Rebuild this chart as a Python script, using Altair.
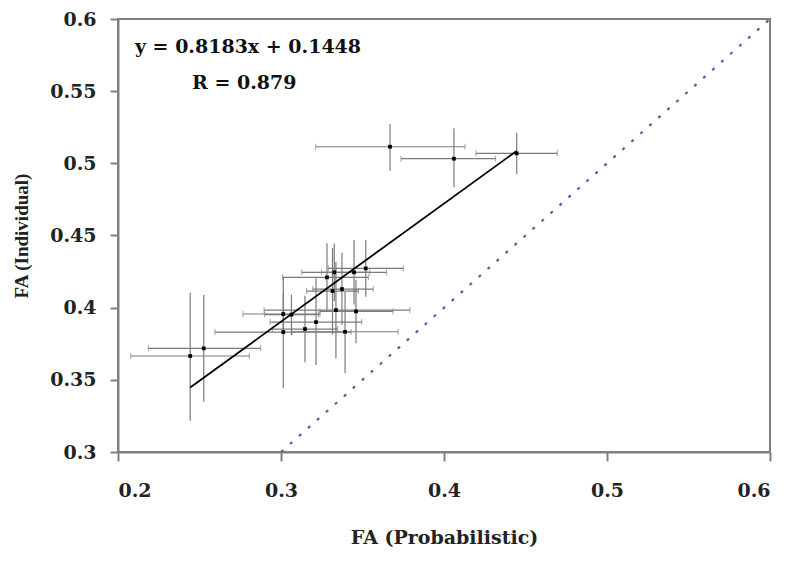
import altair as alt
import pandas as pd

# point centres (FA probabilistic, FA individual)
px = [0.2443, 0.2526, 0.3014, 0.3064, 0.3014, 0.3147, 0.3215, 0.3282, 0.3327, 0.3316,
      0.3374, 0.3337, 0.3393, 0.3448, 0.3460, 0.3520, 0.3669, 0.4061, 0.4446]
py = [0.3665, 0.3718, 0.3956, 0.3952, 0.3831, 0.3852, 0.3900, 0.4210, 0.4245, 0.4115,
      0.4129, 0.3983, 0.3833, 0.4245, 0.3974, 0.4272, 0.5115, 0.5032, 0.5069]
# horizontal error range
x_lo = [0.2078, 0.2186, 0.2767, 0.2900, 0.2595, 0.2947, 0.2933, 0.3010, 0.3127, 0.3157,
        0.3195, 0.2896, 0.3067, 0.3248, 0.3239, 0.3290, 0.3213, 0.3736, 0.4196]
x_hi = [0.2806, 0.2875, 0.3239, 0.3230, 0.3430, 0.3347, 0.3495, 0.3536, 0.3545, 0.3475,
        0.3566, 0.3791, 0.3718, 0.3648, 0.3687, 0.3750, 0.4129, 0.4317, 0.4695]
# vertical error range
y_lo = [0.3216, 0.3348, 0.3810, 0.3810, 0.3442, 0.3622, 0.3602, 0.3983, 0.4045, 0.3815,
        0.3880, 0.3650, 0.3545, 0.4022, 0.3754, 0.4076, 0.4949, 0.4834, 0.4926]
y_hi = [0.4103, 0.4087, 0.4100, 0.4090, 0.4211, 0.4082, 0.4203, 0.4446, 0.4445, 0.4415,
        0.4380, 0.4316, 0.4110, 0.4468, 0.4194, 0.4468, 0.5272, 0.5243, 0.5212]

slope, intercept = 0.8183, 0.1448
fit_x = [0.2443, 0.4446]
ident = [0.3, 0.6]
x_ticks = [0.2, 0.3, 0.4, 0.5, 0.6]
y_ticks = [0.3, 0.35, 0.4, 0.45, 0.5, 0.55, 0.6]

df = pd.DataFrame({"x": px, "y": py, "xlo": x_lo, "xhi": x_hi, "ylo": y_lo, "yhi": y_hi})
fit = pd.DataFrame({"x": fit_x, "y": [slope * v + intercept for v in fit_x]})
diag = pd.DataFrame({"x": ident, "y": ident})
ann = pd.DataFrame({"x": [0.2104, 0.2454], "y": [0.5806, 0.5556],
                    "t": ["y = 0.8183x + 0.1448", "R = 0.879"]})

WIDE = "DejaVu Serif"
SERIF = "Liberation Serif"
xs = alt.Scale(domain=[0.2, 0.6], nice=False, zero=False)
ys = alt.Scale(domain=[0.3, 0.6], nice=False, zero=False)
xaxis = alt.Axis(values=x_ticks, format=".1~f", grid=False, tickSize=9,
                 labelPadding=20, titlePadding=28, titleFont=WIDE, titleFontSize=19)
yaxis = alt.Axis(values=y_ticks, format=".2~f", grid=False, tickSize=8,
                 labelPadding=14, titlePadding=18, titleFont=SERIF, titleFontSize=19)
XT, YT = "FA (Probabilistic)", "FA (Individual)"
XN = lambda f: alt.X(f, scale=xs, axis=xaxis, title=XT)
YN = lambda f: alt.Y(f, scale=ys, axis=yaxis, title=YT)

base = alt.Chart(df)
pts = base.mark_square(color="black", size=14, opacity=1).encode(x=XN("x:Q"), y=YN("y:Q"))
hbars = base.mark_rule(color="#7a7a7a", strokeWidth=1.2).encode(
    x=XN("xlo:Q"), x2="xhi:Q", y=YN("y:Q"))
vbars = base.mark_rule(color="#7a7a7a", strokeWidth=1.2).encode(
    x=XN("x:Q"), y=YN("ylo:Q"), y2="yhi:Q")
cap_lo = base.mark_tick(color="#7a7a7a", orient="vertical", size=6, thickness=1).encode(
    x=XN("xlo:Q"), y=YN("y:Q"))
cap_hi = base.mark_tick(color="#7a7a7a", orient="vertical", size=6, thickness=1).encode(
    x=XN("xhi:Q"), y=YN("y:Q"))

fit_line = alt.Chart(fit).mark_line(color="black", strokeWidth=1.8).encode(
    x=XN("x:Q"), y=YN("y:Q"))
diag_line = alt.Chart(diag).mark_line(color="#5a5aa6", strokeWidth=2.2, strokeDash=[3, 9]).encode(
    x=XN("x:Q"), y=YN("y:Q"))
txt = alt.Chart(ann).mark_text(align="left", baseline="middle", font=WIDE, fontSize=19,
                               fontWeight="bold", color="#111").encode(
    x=XN("x:Q"), y=YN("y:Q"), text="t:N")

chart = alt.layer(diag_line, hbars, vbars, cap_lo, cap_hi, fit_line, pts, txt).properties(
    width=652, height=433,
    background="white",
    autosize=alt.AutoSizeParams(type="none"),
    padding={"left": 110, "top": 11, "right": 10, "bottom": 100},
).configure_view(stroke="#808080", strokeWidth=2).configure_axis(
    domainColor="#808080", domainWidth=2, tickColor="#808080", tickWidth=2,
    labelFont=WIDE, labelFontSize=19, labelFontWeight="bold", labelColor="#222",
    titleFontWeight="bold", titleColor="#222",
)

chart.save("out.html", embed_options={"renderer": "svg", "actions": False})
